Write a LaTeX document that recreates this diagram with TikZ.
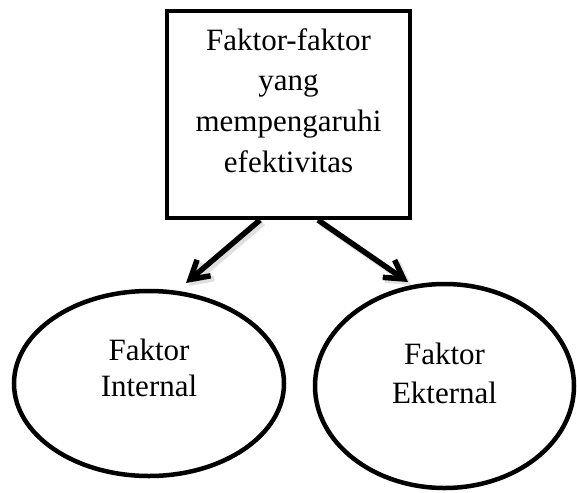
\documentclass[tikz,border=0pt]{standalone}
\usepackage{fontspec}
\setmainfont{Liberation Serif}
\usetikzlibrary{positioning,arrows.meta,shapes.geometric}

\begin{document}
\begin{tikzpicture}[
  x=0.5pt, y=-0.5pt,
  kotak/.style={draw=black, line width=2pt, minimum width=121.5pt, minimum height=103.5pt, inner sep=0pt},
  lonjong/.style={ellipse, draw=black, line width=2.25pt, inner sep=0pt},
  teks/.style={align=center, inner sep=0pt},
  panah/.style={draw=black, line width=2.75pt, -{Straight Barb[length=9pt, width=10.5pt]},
    preaction={draw=black!12, line width=3pt, transform canvas={shift={(1.5pt,-1.5pt)}}}}
]
  \useasboundingbox (0,0) rectangle (577,492);
  % kotak atas
  \node[kotak] (faktor) at (288.5,114.5) {};
  \node[teks, font=\fontsize{15.5}{20.3}\selectfont] (faktorteks) at (288.5,100.5)
    {Faktor-faktor\\yang\\mempengaruhi\\efektivitas};
  % dua lonjong
  \node[lonjong, minimum width=135pt, minimum height=92.5pt] (internal) at (149,383.5) {};
  \node[lonjong, minimum width=129.5pt, minimum height=102pt] (eksternal) at (444.5,386) {};
  \node[teks, font=\fontsize{15.5}{18}\selectfont] (internalteks) at (149,367.5) {Faktor\\Internal};
  \node[teks, font=\fontsize{15.5}{19.5}\selectfont] (eksternalteks) at (444.5,373) {Faktor\\Ekternal};
  % panah
  \coordinate (ujungkiri) at (186,283);
  \coordinate (ujungkanan) at (408,282);
  \draw[panah] ([xshift=-14.25pt]faktor.south) -- (ujungkiri);
  \draw[panah] ([xshift=14.75pt]faktor.south) -- (ujungkanan);
\end{tikzpicture}
\end{document}
